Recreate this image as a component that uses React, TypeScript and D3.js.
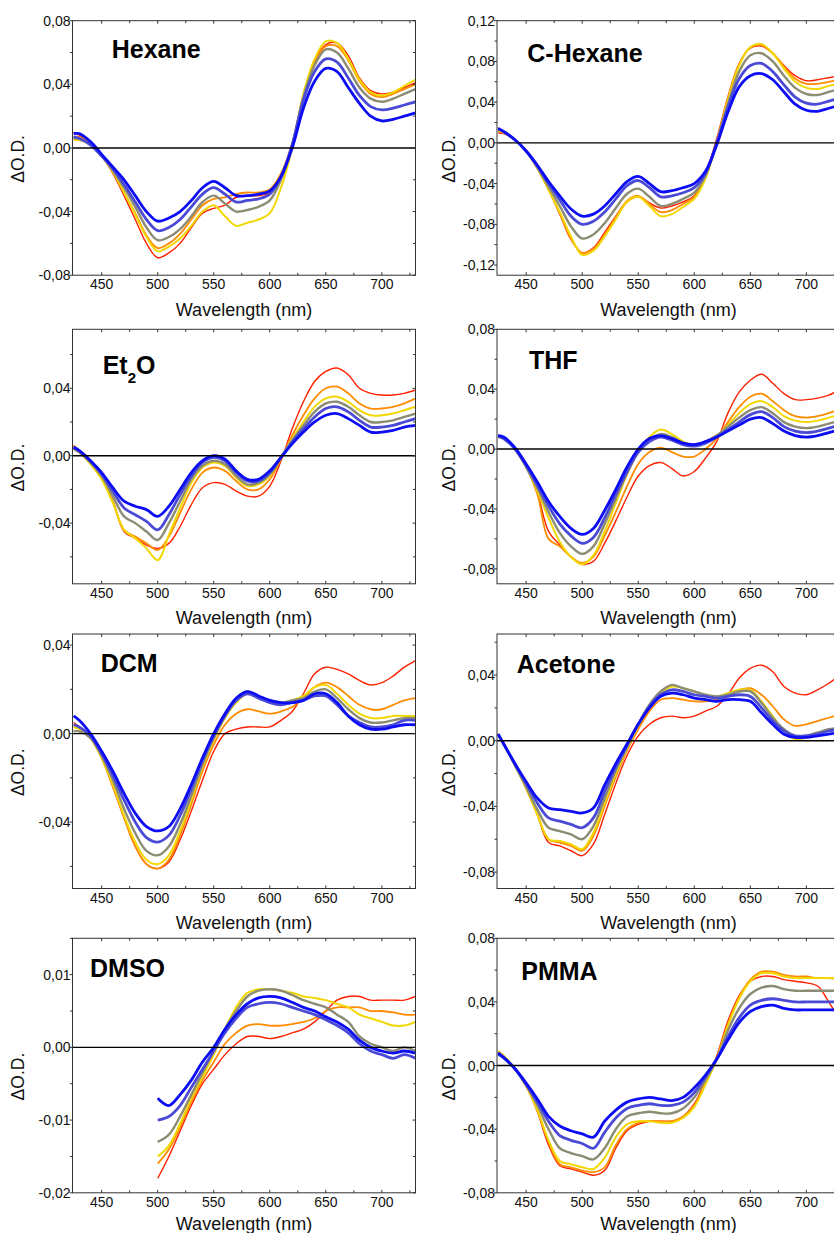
import React from 'react';
import * as d3 from 'd3';

// wavelength grid (nm) shared by all traces
const WAVELENGTHS = [425, 430, 440, 450, 460, 470, 480, 490, 500, 510, 520, 530, 540, 550, 560, 570, 580, 590, 600, 610, 620, 630, 640, 650, 660, 670, 680, 690, 700, 710, 720, 730];

// trace colours from early (red) to late (blue) delay
const TRACE_COLORS = ['#ff2000', '#ff8c00', '#f2d800', '#8c8c74', '#4a4ad6', '#0c0cf5'];
const TRACE_WIDTHS = [1.4, 1.8, 2, 2.4, 2.8, 2.8];

const PANEL_NAMES = ['Hexane', 'C-Hexane', 'Et2O', 'THF', 'DCM', 'Acetone', 'DMSO', 'PMMA'];

const X_TICKS = [450, 500, 550, 600, 650, 700];

// y ranges and labelled ticks, in mOD
const Y_DOMAINS = [[-80, 80], [-130, 120], [-76, 75], [-90, 80], [-70, 45], [-90, 65], [-20, 15], [-80, 80]];
const Y_TICKS = [
  [-80, -40, 0, 40, 80],
  [-120, -80, -40, 0, 40, 80, 120],
  [-40, 0, 40],
  [-80, -40, 0, 40, 80],
  [-40, 0, 40],
  [-80, -40, 0, 40],
  [-20, -10, 0, 10],
  [-80, -40, 0, 40, 80],
];
const Y_MINOR = [20, 20, 20, 20, 20, 20, 5, 20];

// ΔO.D. in mOD; rows: red, orange, yellow, gray, slate, blue
const HEXANE = [
  [10, 8, 3, -5, -16, -30, -45, -60, -69, -66, -60, -50, -41, -38, -36, -31, -30, -30, -28, -18, 2, 33, 55, 65, 66, 58, 44, 36, 34, 35, 38, 41],
  [7, 7, 3, -5, -15, -28, -41, -55, -63, -60, -54, -45, -36, -32, -31, -29, -28, -28, -26, -16, 3, 33, 54, 64, 64, 55, 42, 34, 32, 34, 37, 40],
  [5, 5, 2, -5, -15, -28, -42, -56, -65, -62, -57, -49, -40, -36, -43, -49, -47, -45, -41, -25, 0, 34, 56, 67, 66, 56, 43, 35, 33, 35, 39, 43],
  [6, 6, 2, -5, -14, -25, -37, -50, -58, -56, -51, -43, -34, -30, -35, -40, -39, -37, -33, -20, 2, 32, 52, 62, 60, 50, 38, 31, 29, 31, 34, 37],
  [7, 6, 2, -5, -13, -23, -34, -45, -52, -50, -45, -37, -29, -25, -29, -34, -33, -32, -29, -18, 2, 30, 48, 56, 54, 44, 33, 26, 24, 25, 27, 29],
  [9, 9, 4, -4, -12, -20, -30, -40, -46, -44, -40, -33, -25, -21, -25, -30, -30, -29, -27, -18, 0, 25, 42, 50, 48, 38, 28, 20, 17, 18, 20, 22],
];
const C_HEXANE = [
  [10, 9, 3, -8, -25, -46, -70, -95, -108, -103, -88, -72, -58, -53, -59, -64, -62, -58, -52, -30, 4, 45, 78, 93, 95, 88, 76, 66, 61, 62, 64, 66],
  [11, 10, 3, -8, -25, -46, -69, -94, -108, -104, -90, -73, -57, -52, -60, -68, -66, -60, -53, -33, 2, 44, 77, 94, 96, 88, 75, 63, 58, 58, 60, 62],
  [12, 10, 3, -8, -25, -46, -68, -92, -110, -106, -92, -75, -58, -53, -62, -72, -70, -63, -55, -35, 0, 42, 76, 94, 97, 88, 73, 60, 54, 53, 56, 58],
  [13, 11, 3, -8, -24, -43, -62, -82, -94, -90, -79, -64, -50, -45, -53, -62, -60, -55, -49, -32, 0, 38, 70, 86, 88, 80, 66, 54, 48, 47, 50, 53],
  [14, 11, 3, -8, -23, -40, -56, -72, -80, -77, -68, -55, -42, -37, -44, -53, -52, -49, -44, -30, 0, 35, 63, 76, 78, 70, 57, 45, 39, 38, 41, 44],
  [14, 11, 3, -8, -22, -38, -52, -65, -72, -70, -62, -50, -38, -33, -40, -48, -47, -44, -40, -28, -2, 30, 55, 66, 68, 62, 50, 38, 32, 31, 34, 37],
];
const ET2O = [
  [6, 3, -4, -13, -27, -45, -49, -53, -55, -52, -42, -29, -19, -16, -17, -21, -24, -24, -18, -3, 16, 32, 44, 50, 52, 48, 40, 37, 36, 36, 37, 39],
  [6, 3, -4, -13, -27, -44, -48, -52, -56, -48, -34, -20, -10, -7, -9, -15, -20, -20, -14, -2, 12, 24, 34, 40, 41, 37, 31, 28, 28, 29, 31, 34],
  [4, 2, -5, -14, -28, -44, -49, -55, -62, -47, -31, -16, -7, -4, -6, -13, -18, -17, -12, -1, 10, 20, 29, 34, 35, 32, 27, 24, 24, 25, 27, 29],
  [4, 2, -4, -12, -24, -36, -40, -45, -50, -40, -27, -14, -6, -3, -5, -12, -17, -16, -11, -1, 9, 18, 26, 31, 32, 29, 24, 20, 20, 21, 23, 25],
  [5, 3, -3, -11, -21, -31, -35, -39, -44, -35, -23, -12, -4, -1, -3, -10, -15, -15, -10, -1, 8, 16, 23, 28, 29, 26, 21, 17, 17, 18, 20, 22],
  [5, 3, -3, -10, -19, -27, -30, -32, -36, -30, -20, -10, -3, 0, -2, -9, -14, -14, -9, -1, 7, 14, 20, 24, 25, 22, 18, 14, 14, 15, 17, 18],
];
const THF = [
  [9, 7, 0, -12, -29, -55, -64, -72, -77, -75, -63, -48, -32, -18, -11, -9, -13, -18, -15, -6, 5, 24, 38, 46, 50, 44, 37, 33, 33, 34, 36, 40],
  [9, 7, 0, -12, -30, -60, -65, -72, -76, -72, -58, -42, -25, -10, -2, 1, -2, -5, -5, 0, 7, 18, 28, 35, 37, 32, 26, 22, 21, 22, 24, 27],
  [8, 7, 0, -12, -28, -46, -62, -72, -77, -71, -55, -36, -17, -2, 8, 13, 10, 5, 3, 5, 9, 16, 24, 30, 32, 28, 22, 19, 18, 19, 21, 23],
  [8, 7, 0, -12, -26, -42, -56, -65, -70, -65, -50, -33, -16, -2, 6, 10, 8, 4, 3, 5, 9, 15, 21, 26, 28, 24, 18, 15, 14, 15, 17, 19],
  [9, 7, 0, -11, -24, -38, -50, -58, -63, -59, -46, -30, -15, -2, 5, 8, 6, 3, 2, 4, 8, 13, 18, 23, 25, 21, 15, 12, 11, 12, 14, 16],
  [9, 8, 1, -10, -22, -35, -45, -53, -57, -53, -41, -27, -12, 0, 7, 9, 7, 4, 3, 5, 8, 12, 16, 20, 21, 17, 12, 9, 8, 9, 11, 13],
];
const DCM = [
  [5, 3, -2, -11, -24, -38, -51, -59, -61, -58, -48, -35, -21, -8, 0, 2, 3, 3, 3, 6, 10, 18, 27, 30, 29, 27, 24, 22, 23, 26, 30, 33],
  [4, 3, -2, -11, -24, -38, -51, -59, -61, -57, -46, -32, -17, -5, 4, 9, 11, 10, 9, 10, 12, 16, 21, 23, 21, 17, 13, 11, 11, 13, 15, 16],
  [3, 2, -2, -11, -23, -37, -49, -57, -59, -55, -44, -30, -15, -3, 7, 14, 18, 16, 15, 14, 15, 17, 21, 22, 18, 13, 9, 7, 7, 8, 8, 8],
  [1, 1, -2, -10, -21, -34, -45, -53, -55, -51, -41, -28, -14, -2, 8, 16, 19, 17, 15, 14, 15, 16, 19, 20, 16, 11, 7, 5, 5, 6, 7, 7],
  [4, 3, -1, -9, -19, -30, -40, -47, -49, -46, -37, -25, -12, -1, 8, 15, 18, 16, 14, 13, 14, 15, 17, 17, 13, 8, 5, 3, 3, 4, 6, 6],
  [8, 6, 0, -8, -17, -27, -36, -42, -44, -42, -34, -23, -11, 0, 9, 16, 19, 17, 15, 14, 14, 15, 18, 18, 14, 8, 4, 2, 2, 3, 4, 4],
];
const ACETONE = [
  [4, -2, -15, -29, -45, -62, -64, -67, -70, -63, -45, -26, -9, 3, 10, 14, 15, 14, 15, 18, 21, 28, 38, 44, 46, 42, 33, 29, 28, 31, 35, 40],
  [4, -2, -15, -29, -45, -60, -62, -64, -67, -58, -40, -22, -6, 7, 18, 25, 26, 25, 24, 24, 25, 28, 31, 32, 28, 21, 13, 9, 10, 12, 14, 16],
  [4, -2, -15, -29, -45, -60, -61, -63, -66, -56, -38, -20, -5, 9, 21, 29, 33, 32, 30, 28, 27, 29, 31, 31, 24, 15, 6, 1, 2, 4, 6, 7],
  [4, -2, -15, -28, -42, -53, -55, -57, -60, -52, -35, -18, -4, 10, 22, 30, 34, 32, 30, 28, 27, 28, 30, 30, 23, 14, 7, 3, 3, 5, 7, 8],
  [4, -2, -14, -26, -38, -47, -49, -51, -53, -47, -31, -16, -3, 10, 21, 28, 31, 30, 28, 27, 26, 27, 28, 27, 20, 12, 6, 3, 3, 4, 6, 7],
  [4, -2, -14, -25, -35, -41, -42, -43, -44, -41, -27, -14, -2, 10, 20, 27, 29, 28, 26, 25, 24, 25, 25, 24, 17, 10, 4, 2, 2, 3, 4, 5],
];
const DMSO = [
  [null, null, null, null, null, null, null, null, -18, -15, -11.5, -8, -5, -3, -1, 0.5, 1.5, 1.5, 1.2, 1.5, 2, 2.5, 3.5, 5, 6.5, 7, 7, 6.5, 6.5, 6.5, 6.5, 7],
  [null, null, null, null, null, null, null, null, -16, -14, -11, -7.5, -4.5, -2, 0.5, 2, 3, 3.2, 3, 3, 3.2, 3.5, 4, 5, 5.5, 5.5, 5.5, 5, 5, 4.8, 4.5, 4.5],
  [null, null, null, null, null, null, null, null, -15, -13.5, -10.5, -7, -4, -1, 2.5, 5.5, 7.5, 8, 8, 7.8, 7.5, 7, 6.8, 6.5, 6, 5.5, 4.5, 4, 3.5, 3, 3, 3.5],
  [null, null, null, null, null, null, null, null, -13, -12, -9.5, -6.5, -3.5, -0.5, 2.5, 5, 7, 7.8, 8, 7.8, 7.2, 6.5, 6, 5.5, 4.5, 3.5, 1.5, 0.5, 0, -0.5, 0, -0.5],
  [null, null, null, null, null, null, null, null, -10, -9.5, -8, -5.5, -3, -0.5, 2, 4, 5.5, 6, 6.2, 6, 5.5, 5, 4.5, 3.8, 3, 2, 0.5, -0.5, -1, -1.5, -1, -1.5],
  [null, null, null, null, null, null, null, null, -7, -8, -6.5, -4.5, -2, 0, 2.5, 4.5, 6, 6.8, 7, 6.8, 6.2, 5.5, 5, 4.2, 3.5, 2.5, 1, 0, -0.5, -0.8, -0.5, -0.8],
];
const PMMA = [
  [9, 6, -2, -13, -29, -50, -63, -65, -67, -69, -66, -52, -41, -37, -35, -35, -35, -32, -24, -10, 6, 28, 44, 53, 56, 56, 54, 53, 52, 50, 40, 28],
  [9, 6, -2, -13, -28, -48, -62, -64, -66, -67, -64, -50, -40, -36, -35, -35, -35, -32, -25, -11, 5, 26, 43, 54, 59, 59, 57, 56, 56, 55, 55, 54],
  [9, 6, -2, -13, -28, -47, -60, -62, -64, -65, -58, -45, -37, -35, -35, -36, -36, -33, -26, -12, 4, 25, 42, 53, 58, 58, 56, 55, 55, 55, 55, 55],
  [8, 5, -2, -12, -25, -40, -52, -55, -57, -59, -52, -40, -32, -30, -29, -30, -30, -27, -20, -9, 4, 22, 36, 45, 49, 50, 48, 47, 47, 47, 47, 47],
  [7, 5, -2, -12, -23, -35, -44, -47, -49, -52, -42, -33, -27, -25, -24, -25, -25, -23, -17, -7, 4, 18, 30, 38, 41, 42, 41, 40, 40, 40, 40, 40],
  [8, 5, -2, -11, -21, -32, -38, -41, -43, -45, -35, -28, -23, -21, -20, -21, -22, -20, -14, -6, 4, 16, 27, 34, 37, 38, 36, 35, 35, 35, 35, 35],
];
const PANEL_DATA = [HEXANE, C_HEXANE, ET2O, THF, DCM, ACETONE, DMSO, PMMA];

// layout
const W = 834;
const H = 1233;
const X_DOMAIN = [424, 730];
const COL_X = [72.5, 497];
const ROW_Y = [20.7, 329.3, 634, 938.3];
const PANEL_W = 343;
const PANEL_H = 254.5;
const YLABEL_X = [24.3, 454.7];
const XLABEL_DY = [40.5, 40.5, 40.5, 37];
const TITLE_POS = [[111.7, 58.3], [527.3, 61.5], [102.7, 374], [529, 369.3], [100.7, 672.3], [516.7, 673.3], [90, 977.3], [521.3, 980]];
const FONT = "Arial, 'Liberation Sans', Helvetica, sans-serif";

const fmt = (v: number) => (v / 1000).toFixed(2).replace('.', ',');

function Panel({ i }: { i: number }) {
  const col = i % 2;
  const row = Math.floor(i / 2);
  const x0 = COL_X[col];
  const y0 = ROW_Y[row];
  const x = d3.scaleLinear().domain(X_DOMAIN).range([x0, x0 + PANEL_W]);
  const y = d3.scaleLinear().domain(Y_DOMAINS[i]).range([y0 + PANEL_H, y0]);
  const line = d3.line<number | null>()
    .defined(d => d != null)
    .x((_, k) => x(WAVELENGTHS[k]))
    .y(d => y(d as number))
    .curve(d3.curveCatmullRom);

  const [lo, hi] = Y_DOMAINS[i];
  const m = Y_MINOR[i];
  const yMinor = d3.range(Math.ceil(lo / m) * m, hi + 0.001, m).filter(v => !Y_TICKS[i].includes(v));
  const xMinor = d3.range(475, 730, 50);
  const xr = x0 + PANEL_W;
  const yb = y0 + PANEL_H;
  const tickColor = '#333';

  const name = PANEL_NAMES[i];
  const [tx, ty] = TITLE_POS[i];

  return (
    <g>
      <defs>
        <clipPath id={`clip-${i}`}>
          <rect x={x0} y={y0} width={PANEL_W} height={PANEL_H} />
        </clipPath>
      </defs>
      <g clipPath={`url(#clip-${i})`} fill="none" strokeLinejoin="round">
        {PANEL_DATA[i].map((s, k) => (
          <path key={k} d={line(s) || ''} stroke={TRACE_COLORS[k]} strokeWidth={TRACE_WIDTHS[k]} />
        ))}
        <line x1={x0} x2={xr} y1={y(0)} y2={y(0)} stroke="#000" strokeWidth={1.4} />
      </g>
      <rect x={x0} y={y0} width={PANEL_W} height={PANEL_H} fill="none" stroke={tickColor} strokeWidth={1} />
      {X_TICKS.map(t => (
        <g key={`xt${t}`}>
          <line x1={x(t)} x2={x(t)} y1={yb} y2={yb - 3} stroke={tickColor} />
          <line x1={x(t)} x2={x(t)} y1={y0} y2={y0 + 3} stroke={tickColor} />
          <text x={x(t)} y={yb + 14} textAnchor="middle" fontSize={14} fill="#111">{t}</text>
        </g>
      ))}
      {xMinor.map(t => (
        <g key={`xm${t}`}>
          <line x1={x(t)} x2={x(t)} y1={yb} y2={yb - 2.5} stroke={tickColor} />
          <line x1={x(t)} x2={x(t)} y1={y0} y2={y0 + 2.5} stroke={tickColor} />
        </g>
      ))}
      {Y_TICKS[i].map(t => (
        <g key={`yt${t}`}>
          <line x1={x0} x2={x0 - 3} y1={y(t)} y2={y(t)} stroke={tickColor} />
          <line x1={xr} x2={xr - 3} y1={y(t)} y2={y(t)} stroke={tickColor} />
          <text x={x0 - 2} y={y(t)} dy="0.36em" textAnchor="end" fontSize={14} fill="#111">{fmt(t)}</text>
        </g>
      ))}
      {yMinor.map(t => (
        <g key={`ym${t}`}>
          <line x1={x0} x2={x0 - 2.5} y1={y(t)} y2={y(t)} stroke={tickColor} />
          <line x1={xr} x2={xr - 2.5} y1={y(t)} y2={y(t)} stroke={tickColor} />
        </g>
      ))}
      <text x={x0 + PANEL_W / 2} y={yb + XLABEL_DY[row]} textAnchor="middle" fontSize={18} fill="#111">
        Wavelength (nm)
      </text>
      <text
        transform={`translate(${YLABEL_X[col]},${y0 + PANEL_H / 2 + 11}) rotate(-90)`}
        textAnchor="middle"
        fontSize={17.5}
        fill="#111"
      >
        ΔO.D.
      </text>
      {name === 'Et2O' ? (
        <text x={tx} y={ty} fontSize={25} fontWeight="bold" fill="#000">
          Et<tspan fontSize={15} dy={9}>2</tspan><tspan dy={-9}>O</tspan>
        </text>
      ) : (
        <text x={tx} y={ty} fontSize={25} fontWeight="bold" fill="#000">{name}</text>
      )}
    </g>
  );
}

export default function App() {
  return (
    <svg
      width={W}
      height={H}
      style={{ position: 'absolute', left: 0, top: 0, background: '#fff', fontFamily: FONT }}
    >
      <rect width={W} height={H} fill="#fff" />
      {PANEL_NAMES.map((_, i) => (
        <Panel key={i} i={i} />
      ))}
    </svg>
  );
}
